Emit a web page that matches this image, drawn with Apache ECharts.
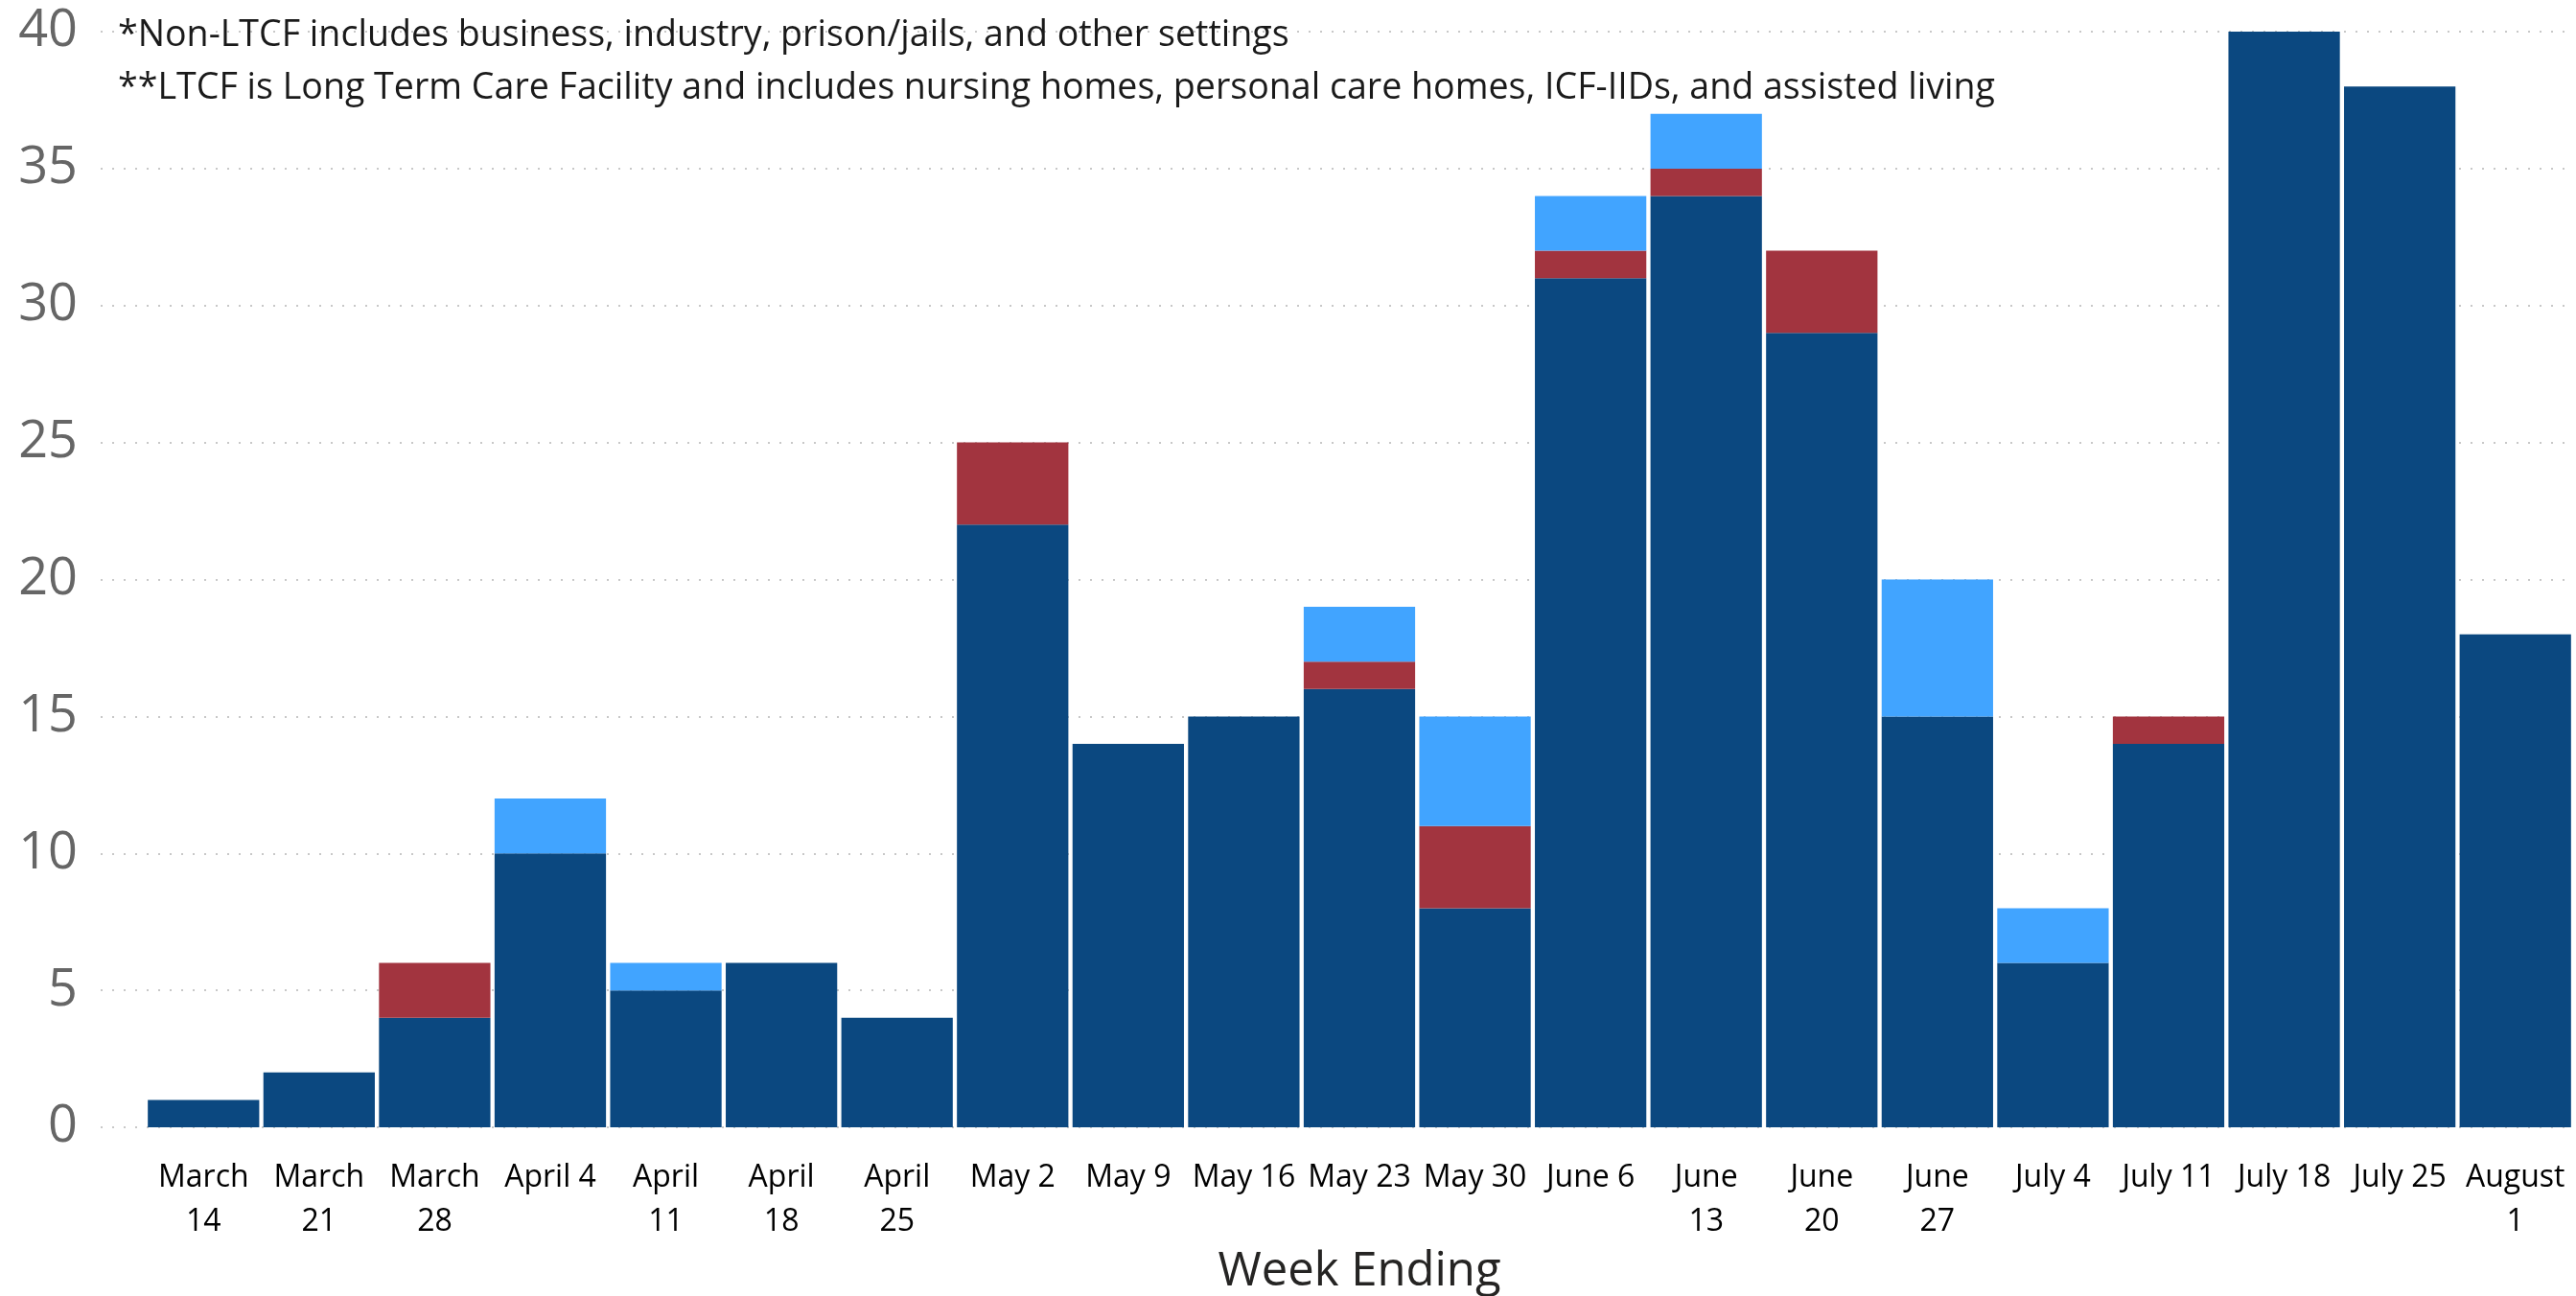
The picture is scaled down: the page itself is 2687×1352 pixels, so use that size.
<!DOCTYPE html>
<html>
<head>
<meta charset="utf-8">
<script src="https://cdn.jsdelivr.net/npm/echarts@6/dist/echarts.min.js"></script>
<style>html,body{margin:0;padding:0;background:#fff;overflow:hidden;width:2687px;height:1352px;}#c{width:2687px;height:1352px;}</style>
</head>
<body>
<div id="c"></div>
<script>
const categories = ["March 14","March 21","March 28","April 4","April 11","April 18","April 25","May 2","May 9","May 16","May 23","May 30","June 6","June 13","June 20","June 27","July 4","July 11","July 18","July 25","August 1"];
const tickLabels = ["March\n14","March\n21","March\n28","April 4","April\n11","April\n18","April\n25","May 2","May 9","May 16","May 23","May 30","June 6","June\n13","June\n20","June\n27","July 4","July 11","July 18","July 25","August\n1"];
const seriesNames = ["Non-LTCF*","LTCF**","Other"];
const darkValues  = [1,2,4,10,5,6,4,22,14,15,16,8,31,34,29,15,6,14,40,38,18];
const redValues   = [0,0,2,0,0,0,0,3,0,0,1,3,1,1,3,0,0,1,0,0,0];
const lightValues = [0,0,0,2,1,0,0,0,0,0,2,4,2,2,0,5,2,0,0,0,0];
const yTicks = {min:0, max:40, interval:5};
const notes = ["*Non-LTCF includes business, industry, prison/jails, and other settings",
               "**LTCF is Long Term Care Facility and includes nursing homes, personal care homes, ICF-IIDs, and assisted living"];
const axisTitle = "Week Ending";

const chart = echarts.init(document.getElementById('c'), null, {renderer:'canvas', width:2687, height:1352});
const FONT = "'Segoe UI','Open Sans','Noto Sans',sans-serif";
const labelMap = {};
categories.forEach((c,i)=>labelMap[c]=tickLabels[i]);

chart.setOption({
  backgroundColor:'#ffffff',
  animation:false,
  grid:[
    {left:105, right:3, top:33, bottom:176, containLabel:false, outerBoundsMode:'none'},
    {left:152, right:3, top:33, bottom:176, containLabel:false, outerBoundsMode:'none'}
  ],
  xAxis:[
    {gridIndex:0, type:'value', min:0, max:1, show:false},
    {gridIndex:1, type:'category', data:categories,
     axisLine:{show:false}, axisTick:{show:false},
     name:axisTitle, nameLocation:'middle', nameGap:125,
     nameTextStyle:{fontFamily:FONT, fontSize:49, color:'#252423', fontWeight:500},
     axisLabel:{interval:0, margin:30, fontFamily:FONT, fontSize:32, lineHeight:46, color:'#000000',
       formatter:v=>labelMap[v]}}
  ],
  yAxis:[
    {gridIndex:0, type:'value', min:yTicks.min, max:yTicks.max, interval:yTicks.interval,
     axisLine:{show:false}, axisTick:{show:false},
     axisLabel:{margin:24, fontFamily:FONT, fontSize:54, fontWeight:400, color:'#666666'},
     splitLine:{show:true, lineStyle:{color:'#c8c8c8', width:2, type:[2,10]}}},
    {gridIndex:1, type:'value', min:yTicks.min, max:yTicks.max, interval:yTicks.interval, show:false, splitLine:{show:false}}
  ],
  series:[
    {name:seriesNames[0], type:'bar', stack:'s', xAxisIndex:1, yAxisIndex:1, data:darkValues,
     barCategoryGap:'3.6%', itemStyle:{color:'#0B4880'}},
    {name:seriesNames[1], type:'bar', stack:'s', xAxisIndex:1, yAxisIndex:1, data:redValues,
     barCategoryGap:'3.6%', itemStyle:{color:'#A2343F'}},
    {name:seriesNames[2], type:'bar', stack:'s', xAxisIndex:1, yAxisIndex:1, data:lightValues,
     barCategoryGap:'3.6%', itemStyle:{color:'#41A4FF'}}
  ],
  graphic:[
    {type:'text', x:123, y:37, z:10, style:{text:notes[0], fontFamily:FONT, fontSize:37.6, fill:'#1a1a1a', verticalAlign:'middle'}},
    {type:'text', x:123, y:92, z:10, style:{text:notes[1], fontFamily:FONT, fontSize:37.6, fill:'#1a1a1a', verticalAlign:'middle'}}
  ]
});
</script>
</body>
</html>
